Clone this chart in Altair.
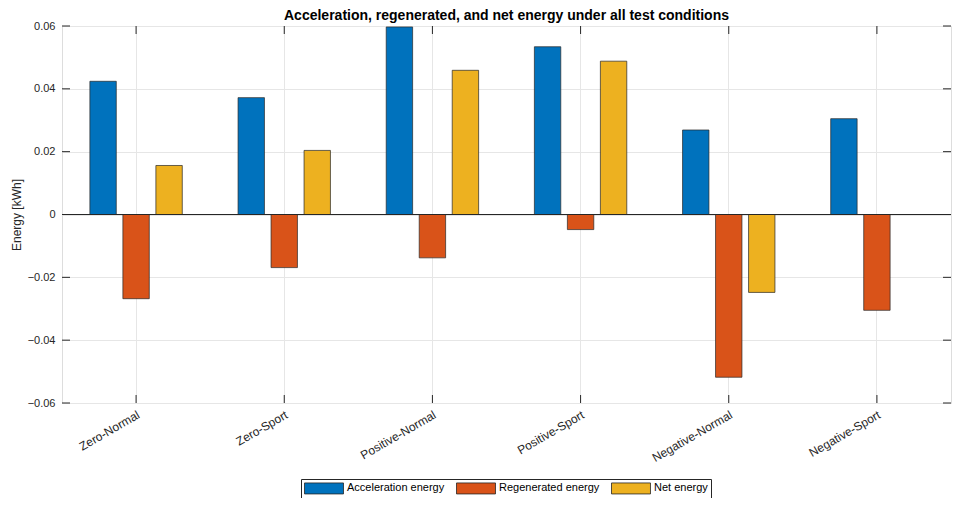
import altair as alt
import pandas as pd

conditions = ["Zero-Normal", "Zero-Sport", "Positive-Normal", "Positive-Sport", "Negative-Normal", "Negative-Sport"]
series = ["Acceleration energy", "Regenerated energy", "Net energy"]
accel = [0.0424, 0.0372, 0.0597, 0.0534, 0.0269, 0.0305]
regen = [-0.0268, -0.0169, -0.0138, -0.0048, -0.0518, -0.0305]
net = [0.0156, 0.0204, 0.0459, 0.0488, -0.0248, 0.0]
colors = ["#0072BD", "#D95319", "#EDB120"]
y_ticks = [-0.06, -0.04, -0.02, 0, 0.02, 0.04, 0.06]

rows = []
for s, vals in zip(series, [accel, regen, net]):
    for c, v in zip(conditions, vals):
        rows.append({"cond": c, "series": s, "value": v})
df = pd.DataFrame(rows)
cond_df = pd.DataFrame({"cond": conditions})
ytick_df = pd.DataFrame({"y": y_ticks})

W, H = 889, 377
TL = 8
FONT = "Liberation Sans"
DARK = "#262626"
GRID = "#e6e6e6"

xscale = alt.Scale(domain=conditions, paddingInner=0, paddingOuter=0)
yscale = alt.Scale(domain=[-0.06, 0.06], nice=False)

bars = alt.Chart(df).mark_bar(stroke=DARK, strokeWidth=0.7).encode(
    x=alt.X("cond:N", scale=xscale, sort=conditions,
            axis=alt.Axis(title=None, labelAngle=330, labelFontSize=12, labelColor=DARK,
                          ticks=False, domain=False, grid=True, gridColor=GRID,
                          labelPadding=6, labelFont=FONT)),
    xOffset=alt.XOffset("series:N", sort=series,
                        scale=alt.Scale(domain=series, paddingInner=0.2, paddingOuter=0.845)),
    y=alt.Y("value:Q", scale=yscale,
            axis=alt.Axis(title="Energy [kWh]", values=y_ticks, format=".2~f", labelFontSize=11,
                          labelColor=DARK, titleFontSize=12, titleFontWeight="normal",
                          titleColor=DARK, ticks=False, domain=False, grid=True,
                          gridColor=GRID, labelPadding=7, titlePadding=4,
                          labelFont=FONT, titleFont=FONT)),
    color=alt.Color("series:N", sort=series,
                    scale=alt.Scale(domain=series, range=colors),
                    legend=alt.Legend(title=None, orient="none", legendX=239, legendY=453,
                                      direction="horizontal", columns=3,
                                      symbolType="M-3.545,-1H3.545V1H-3.545Z", symbolSize=121,
                                      symbolOffset=14,
                                      symbolStrokeColor=DARK, symbolStrokeWidth=0.8,
                                      symbolOpacity=1,
                                      labelFontSize=11, labelColor="black", labelFont=FONT,
                                      labelOffset=17,
                                      strokeColor=DARK, fillColor="white", padding=3,
                                      columnPadding=9, rowPadding=0)),
)

zero = alt.Chart(pd.DataFrame({"z": [0]})).mark_rule(color=DARK, strokeWidth=1).encode(
    y=alt.Y("z:Q", scale=yscale)
)

xt_top = alt.Chart(cond_df).mark_rule(color=DARK, strokeWidth=1).encode(
    x=alt.X("cond:N", scale=xscale, sort=conditions), y=alt.value(0), y2=alt.value(TL)
)
xt_bot = alt.Chart(cond_df).mark_rule(color=DARK, strokeWidth=1).encode(
    x=alt.X("cond:N", scale=xscale, sort=conditions), y=alt.value(H - TL), y2=alt.value(H)
)
yt_left = alt.Chart(ytick_df).mark_rule(color=DARK, strokeWidth=1).encode(
    y=alt.Y("y:Q", scale=yscale), x=alt.value(0), x2=alt.value(TL)
)
yt_right = alt.Chart(ytick_df).mark_rule(color=DARK, strokeWidth=1).encode(
    y=alt.Y("y:Q", scale=yscale), x=alt.value(W - TL), x2=alt.value(W)
)

chart = alt.layer(bars, zero, xt_top, xt_bot, yt_left, yt_right).properties(
    width=W, height=H,
    title=alt.TitleParams("Acceleration, regenerated, and net energy under all test conditions",
                          fontSize=14, fontWeight="bold", color="black", font=FONT,
                          anchor="middle", offset=-3),
    padding={"left": 54, "top": 18, "right": 1, "bottom": 95},
    autosize=alt.AutoSizeParams(type="none"),
).configure_view(stroke=DARK, strokeWidth=1).configure(background="white")

chart.save("out.html", embed_options={"renderer": "svg", "actions": False})
